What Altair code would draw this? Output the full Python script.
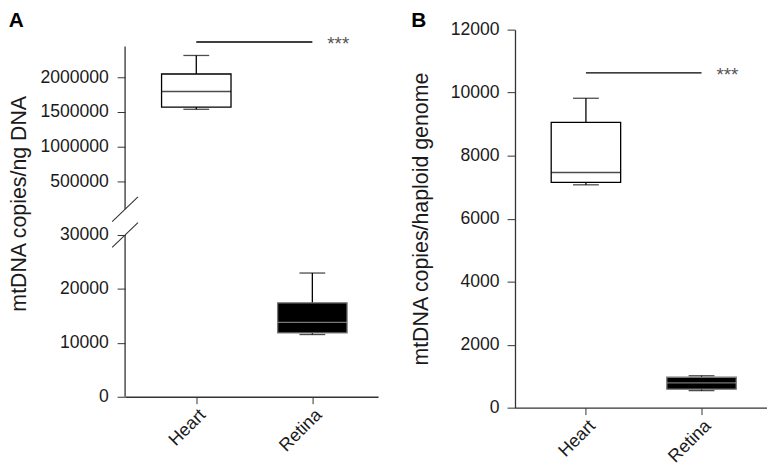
import altair as alt
import pandas as pd

# ---------------- data ----------------
categories = ["Heart", "Retina"]

# Panel A: mtDNA copies / ng DNA (box-plot summary values)
a_low = [1539000, 11540]
a_q1 = [1571000, 11835]
a_med = [1796000, 13805]
a_q3 = [2047000, 17430]
a_high = [2314000, 22950]
a_sig = 2507000
a_ticks = [0, 10000, 20000, 30000, 500000, 1000000, 1500000, 2000000]
a_break_domain = [0, 30000, 100000, 2443000]   # broken axis: lower 0-30000, upper 100000-2443000

# Panel B: mtDNA copies / haploid genome
b_low = [7074, 541]
b_q1 = [7149, 588]
b_med = [7463, 786]
b_q3 = [9054, 965]
b_high = [9822, 1013]
b_sig = 10628
b_ticks = [0, 2000, 4000, 6000, 8000, 10000, 12000]

sig_label = "***"

FONT = "Liberation Sans"
AXC = "#333333"


def make_df(low, q1, med, q3, high):
    return pd.DataFrame({"cat": categories, "low": low, "q1": q1, "med": med, "q3": q3, "high": high})


def panel(df, sig, yscale, yaxis, width, height, title, title_offset, extra=None):
    xscale = alt.Scale(type="point", padding=0.59, align=0.52, domain=categories)
    xaxis = alt.Axis(title=None, labelAngle=-45, labelAlign="right", labelBaseline="top",
                     labelFontSize=18, labelFont=FONT, labelColor="#1a1a1a",
                     tickSize=7, tickColor=AXC, domainColor=AXC, domainWidth=1.3,
                     labelPadding=2, labelOffset=0)
    x = alt.X("cat:N", scale=xscale, axis=xaxis)
    base = alt.Chart(df)
    whisker = base.mark_rule(color="black", strokeWidth=1.3).encode(
        x=x, y=alt.Y("low:Q", scale=yscale, axis=yaxis), y2="high:Q")
    cap_lo = base.mark_tick(orient="horizontal", size=26, thickness=1.3, color="black").encode(
        x=x, y="low:Q")
    cap_hi = base.mark_tick(orient="horizontal", size=26, thickness=1.3, color="black").encode(
        x=x, y="high:Q")
    is_heart = alt.datum.cat == "Heart"
    box = base.mark_bar(size=70, strokeWidth=1.3).encode(
        x=x, y="q1:Q", y2="q3:Q",
        fill=alt.condition(is_heart, alt.value("white"), alt.value("black")),
        stroke=alt.condition(is_heart, alt.value("black"), alt.value("#777777")))
    med = base.mark_tick(orient="horizontal", size=70, thickness=1.4).encode(
        x=x, y="med:Q",
        color=alt.condition(is_heart, alt.value("black"), alt.value("#aaaaaa")))
    sdf = pd.DataFrame({"c1": [categories[0]], "c2": [categories[1]], "y": [sig], "label": [sig_label]})
    sig_line = alt.Chart(sdf).mark_rule(color="black", strokeWidth=1.4).encode(
        x=alt.X("c1:N", scale=xscale), x2="c2", y="y:Q")
    sig_text = alt.Chart(sdf).mark_text(align="left", baseline="middle", dx=15, dy=2, fontSize=19,
                                        font=FONT, color="#555555").encode(
        x=alt.X("c2:N", scale=xscale), y="y:Q", text="label:N")
    layers = [whisker, cap_lo, cap_hi, box, med, sig_line, sig_text]
    if extra:
        layers += extra
    return alt.layer(*layers).properties(
        width=width, height=height,
        title=alt.TitleParams(title, anchor="start", frame="bounds", fontSize=21, font=FONT,
                              fontWeight="bold", color="black", offset=title_offset))


ylab = dict(labelFontSize=17.7, labelFont=FONT, labelColor="#1a1a1a", titleFont=FONT,
            titleFontSize=21.5, titleFontWeight="normal", titleColor="#1a1a1a",
            tickColor=AXC, tickSize=8, grid=False)

# ----- Panel A (broken axis) -----
a_scale = alt.Scale(domain=a_break_domain, range=[370, 207, 181, 17], zero=False, nice=False)
a_axis = alt.Axis(title="mtDNA copies/ng DNA", values=a_ticks, domain=False, format="d",
                  labelPadding=9, titlePadding=9.5, titleY=175, **ylab)
adf = make_df(a_low, a_q1, a_med, a_q3, a_high)
axis_segs = pd.DataFrame({"y": [a_break_domain[0], a_break_domain[2]],
                          "y2": [a_break_domain[1], a_break_domain[3]]})
a_axis_line = alt.Chart(axis_segs).mark_rule(color=AXC, strokeWidth=1.3).encode(
    x=alt.value(0), y="y:Q", y2="y2:Q")
brk = pd.DataFrame({"y": [a_break_domain[1], a_break_domain[2]]})
a_slash = alt.Chart(brk).mark_rule(color=AXC, strokeWidth=1.1, yOffset=12.5, y2Offset=-12.5).encode(
    x=alt.value(-13), x2=alt.value(13), y="y:Q", y2="y:Q")
panel_a = panel(adf, a_sig, a_scale, a_axis, 255, 370, "A", -1, extra=[a_axis_line, a_slash])

# ----- Panel B -----
b_scale = alt.Scale(domain=[0, 12000], zero=True, nice=False)
b_axis = alt.Axis(title="mtDNA copies/haploid genome", values=b_ticks, format="d",
                  domainColor=AXC, domainWidth=1.3, labelPadding=8, titlePadding=17.5, **ylab)
bdf = make_df(b_low, b_q1, b_med, b_q3, b_high)
panel_b = panel(bdf, b_sig, b_scale, b_axis, 254, 381, "B", -10)

chart = alt.hconcat(panel_a, panel_b, spacing=33).properties(
    padding={"left": 0, "top": 0, "right": 0, "bottom": 0}, background="white"
).configure_view(stroke=None)

chart.save("out.html", embed_options={"renderer": "svg", "actions": False})
